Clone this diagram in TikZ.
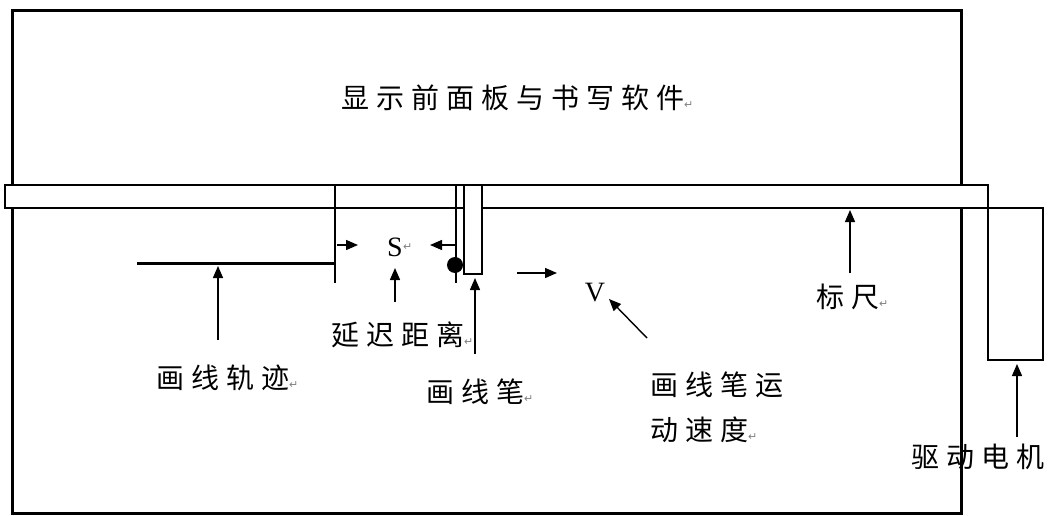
\documentclass[tikz,border=0pt]{standalone}
\usepackage{fontspec}
\setmainfont{Liberation Serif}
\newfontfamily\cjk[LetterSpace=25]{Noto Sans CJK SC}
\newfontfamily\symf{DejaVu Sans}
\usetikzlibrary{arrows.meta}
\newcommand\retmark{{\symf\fontsize{11}{11}\selectfont\color{gray}↵}}
\begin{document}
\begin{tikzpicture}[x=1pt,y=-1pt,
  lbl/.style={anchor=west,inner sep=0pt,font=\cjk\fontsize{28}{32}\selectfont},
  latin/.style={inner sep=0pt,font=\fontsize{28}{30}\selectfont},
  arr/.style={line width=1.4pt,-{Triangle[length=12pt,width=10pt]}},
  thin/.style={line width=1.3pt},
  frame/.style={line width=3pt}]
\useasboundingbox (0,0) rectangle (1055,516);
% outer panel
\draw[frame] (12,11) rectangle (961,513);
% ruler with motor
\draw[thin,fill=white] (5,185) -- (988,185) -- (988,360) -- (1043,360) -- (1043,208) -- (5,208) -- cycle;
% pen
\draw[thin] (456,185) -- (456,283);
\draw[thin,fill=white] (464,185) rectangle (482,274);
\fill (455,265) circle (8);
% trajectory and delay marker
\draw[thin] (335,185) -- (335,283);
\draw[line width=3pt] (137,263) -- (335,263);
% coordinates
\coordinate (trajA) at (218,266);
\coordinate (trajB) at (218,340);
\coordinate (dL) at (337,245);
\coordinate (dLe) at (358,245);
\coordinate (dR) at (456,245);
\coordinate (dRe) at (430,245);
\coordinate (sA) at (395,268);
\coordinate (sB) at (395,302);
\coordinate (pA) at (475,278);
\coordinate (pB) at (475,354);
\coordinate (vA) at (517,273);
\coordinate (vB) at (557,273);
\coordinate (rA) at (850,210);
\coordinate (rB) at (850,273);
\coordinate (mA) at (1017,364);
\coordinate (mB) at (1017,437);
\coordinate (spA) at (609,299);
\coordinate (spB) at (647,338);
% texts
\node[lbl] (title) at (341,98) {显示前面板与书写软件\retmark};
\node[latin] (S) at (395,247) {S};
\node[anchor=west,inner sep=0pt] (Sr) at (S.east) {\retmark};
\node[latin] (V) at (595,293) {V};
\node[lbl] (delay) at (331,335) {延迟距离\retmark};
\node[lbl] (traj) at (156,378) {画线轨迹\retmark};
\node[lbl] (pen) at (426,392) {画线笔\retmark};
\node[lbl] (speed1) at (650,385) {画线笔运};
\node[lbl] (speed2) at (650,430) {动速度\retmark};
\node[lbl] (ruler) at (816,297) {标尺\retmark};
\node[lbl] (motor) at (911,457) {驱动电机};
% arrows
\draw[arr] (trajB) -- (trajA);
\draw[arr] (dL) -- (dLe);
\draw[arr] (dR) -- (dRe);
\draw[arr] (sB) -- (sA);
\draw[arr] (pB) -- (pA);
\draw[arr] (vA) -- (vB);
\draw[arr] (spB) -- (spA);
\draw[arr] (rB) -- (rA);
\draw[arr] (mB) -- (mA);
\end{tikzpicture}
\end{document}
